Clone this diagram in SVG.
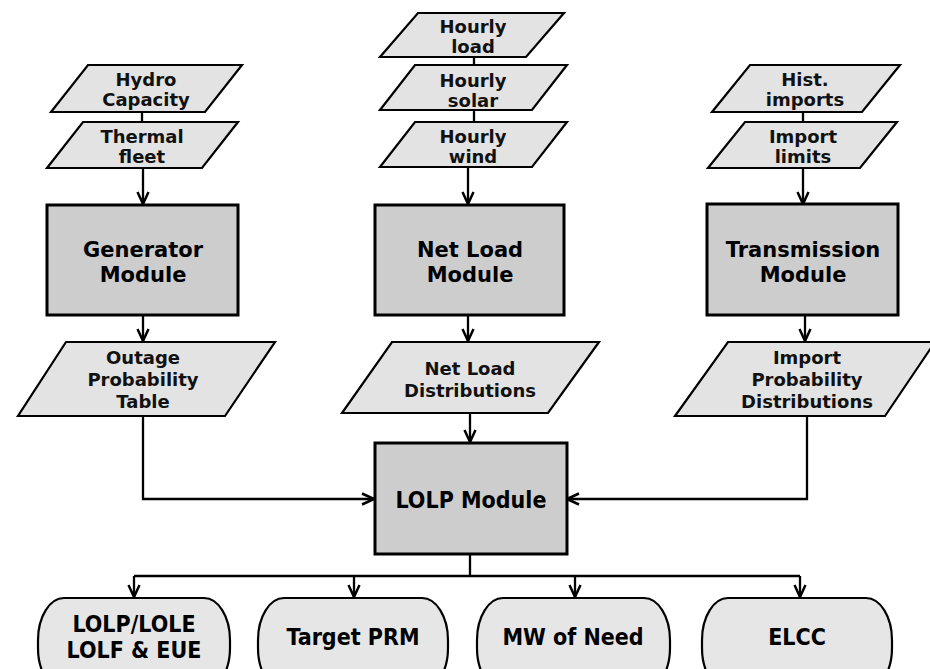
<svg xmlns="http://www.w3.org/2000/svg" width="930" height="669" viewBox="0 0 930 669">
<style>
.data{fill:#e3e3e3;stroke:#000;stroke-width:2.2;stroke-linejoin:miter}
.mod{fill:#cdcdcd;stroke:#000;stroke-width:3}
.out{fill:#e6e6e6;stroke:#000;stroke-width:2.2}
.t{font-family:"DejaVu Sans","Liberation Sans",sans-serif;font-weight:bold;font-size:18px;text-anchor:middle;fill:#111}
.tm{font-family:"DejaVu Sans","Liberation Sans",sans-serif;font-weight:bold;font-size:21px;text-anchor:middle;fill:#000}
.tc{font-family:"DejaVu Sans Condensed","DejaVu Sans","Liberation Sans",sans-serif;font-stretch:condensed;font-weight:bold;font-size:23px;text-anchor:middle;fill:#000}
.c{fill:none;stroke:#000;stroke-width:2.3}
</style>
<defs>
<marker id="arr" viewBox="0 0 14 14" refX="13" refY="7" markerWidth="14" markerHeight="14" markerUnits="userSpaceOnUse" orient="auto">
<path d="M1,1.5 L13,7 L1,12.5" fill="none" stroke="#000" stroke-width="2.5"/>
</marker>
</defs>

<g id="connectors">
<path class="c" d="M142,112 V122"/>
<path class="c" d="M474,57 V65"/>
<path class="c" d="M474,110 V122"/>
<path class="c" d="M803,112 V122"/>
<path class="c" d="M143,168 V204" marker-end="url(#arr)"/>
<path class="c" d="M468,167 V204" marker-end="url(#arr)"/>
<path class="c" d="M803,168 V204" marker-end="url(#arr)"/>
<path class="c" d="M143,315 V341" marker-end="url(#arr)"/>
<path class="c" d="M468,315 V341" marker-end="url(#arr)"/>
<path class="c" d="M805,315 V341" marker-end="url(#arr)"/>
<path class="c" d="M143,416 V499 H374" marker-end="url(#arr)"/>
<path class="c" d="M470,413 V442" marker-end="url(#arr)"/>
<path class="c" d="M807,416 V499 H567" marker-end="url(#arr)"/>
<path class="c" d="M470,554 V576"/>
<path class="c" d="M134,576 H800"/>
<path class="c" d="M134,576 V597" marker-end="url(#arr)"/>
<path class="c" d="M354,576 V597" marker-end="url(#arr)"/>
<path class="c" d="M575,576 V597" marker-end="url(#arr)"/>
<path class="c" d="M800,576 V597" marker-end="url(#arr)"/>
</g>

<g id="hydro">
<polygon class="data" points="88,65 242,65 205,112 51,112"/>
<text class="t" x="146" y="86">Hydro</text>
<text class="t" x="146" y="106">Capacity</text>
</g>
<g id="thermal">
<polygon class="data" points="83,122 238,122 202,168 47,168"/>
<text class="t" x="142" y="143">Thermal</text>
<text class="t" x="142" y="163">fleet</text>
</g>

<g id="hourly-load">
<polygon class="data" points="418,13 564,13 526,57 380,57"/>
<text class="t" x="473" y="33">Hourly</text>
<text class="t" x="473" y="53">load</text>
</g>
<g id="hourly-solar">
<polygon class="data" points="415,65 567,65 532,110 380,110"/>
<text class="t" x="473" y="87">Hourly</text>
<text class="t" x="473" y="107">solar</text>
</g>
<g id="hourly-wind">
<polygon class="data" points="415,122 567,122 532,167 380,167"/>
<text class="t" x="473" y="143">Hourly</text>
<text class="t" x="473" y="163">wind</text>
</g>

<g id="hist-imports">
<polygon class="data" points="750,65 900,65 862,112 712,112"/>
<text class="t" x="805" y="86">Hist.</text>
<text class="t" x="805" y="106">imports</text>
</g>
<g id="import-limits">
<polygon class="data" points="745,122 897,122 860,168 708,168"/>
<text class="t" x="803" y="143">Import</text>
<text class="t" x="803" y="163">limits</text>
</g>

<g id="generator-module">
<rect class="mod" x="47" y="205" width="191" height="110"/>
<text class="tm" x="143" y="257">Generator</text>
<text class="tm" x="143" y="282">Module</text>
</g>
<g id="netload-module">
<rect class="mod" x="375" y="205" width="189" height="110"/>
<text class="tm" x="470" y="257">Net Load</text>
<text class="tm" x="470" y="282">Module</text>
</g>
<g id="transmission-module">
<rect class="mod" x="707" y="204" width="191" height="111"/>
<text class="tm" x="803" y="257">Transmission</text>
<text class="tm" x="803" y="282">Module</text>
</g>

<g id="outage-table">
<polygon class="data" points="66,342 275,342 225,416 18,416"/>
<text class="t" x="143" y="364">Outage</text>
<text class="t" x="143" y="386">Probability</text>
<text class="t" x="143" y="408">Table</text>
</g>
<g id="netload-dist">
<polygon class="data" points="392,342 599,342 548,413 342,413"/>
<text class="t" x="470" y="375">Net Load</text>
<text class="t" x="470" y="397">Distributions</text>
</g>
<g id="import-dist">
<polygon class="data" points="728,342 935,342 885,416 675,416"/>
<text class="t" x="807" y="364">Import</text>
<text class="t" x="807" y="386">Probability</text>
<text class="t" x="807" y="408">Distributions</text>
</g>

<g id="lolp-module">
<rect class="mod" x="375" y="443" width="192" height="111"/>
<text class="tc" x="471" y="508">LOLP Module</text>
</g>

<g id="out-lolp">
<rect class="out" x="38" y="598" width="192" height="92" rx="26" ry="42"/>
<text class="tc" x="134" y="632">LOLP/LOLE</text>
<text class="tc" x="134" y="658">LOLF &amp; EUE</text>
</g>
<g id="out-prm">
<rect class="out" x="258" y="598" width="190" height="92" rx="26" ry="42"/>
<text class="tc" x="353" y="645">Target PRM</text>
</g>
<g id="out-mw">
<rect class="out" x="477" y="598" width="193" height="92" rx="26" ry="42"/>
<text class="tc" x="573" y="645">MW of Need</text>
</g>
<g id="out-elcc">
<rect class="out" x="702" y="598" width="190" height="92" rx="26" ry="42"/>
<text class="tc" x="797" y="645">ELCC</text>
</g>
</svg>
